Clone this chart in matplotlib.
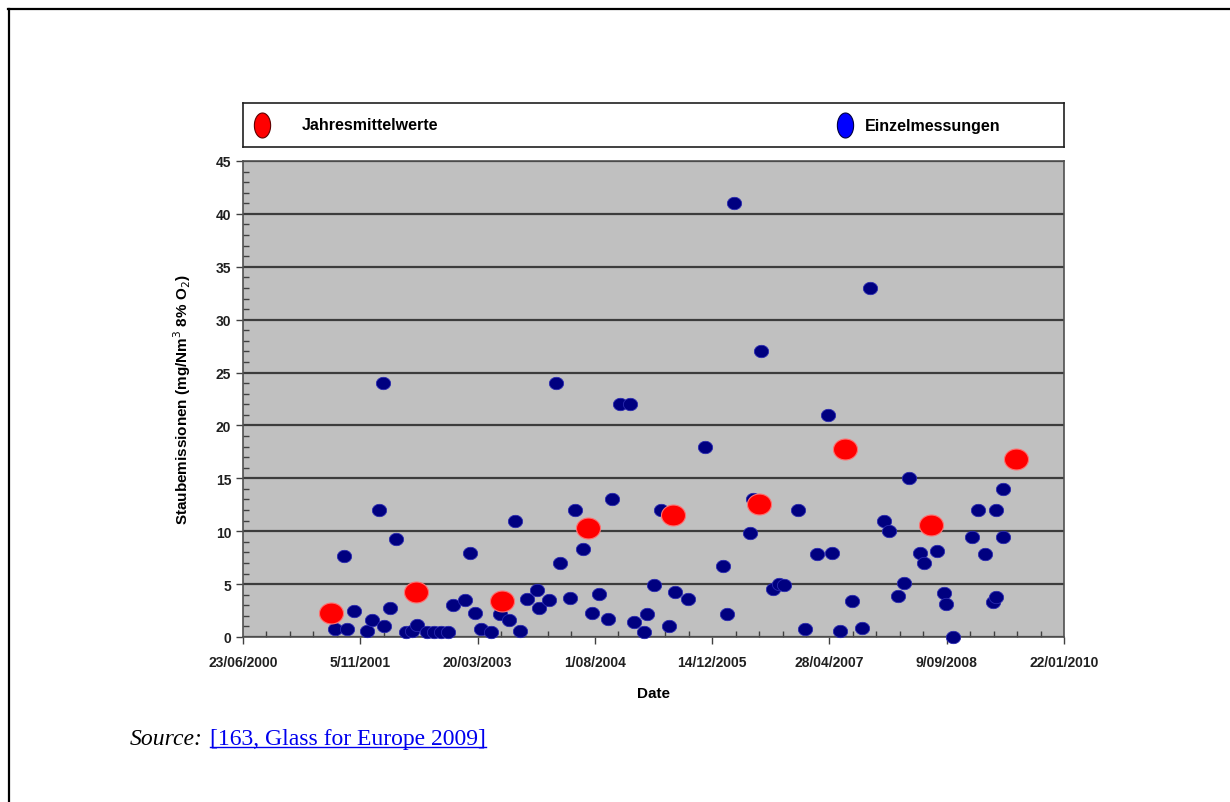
import numpy as np
import pandas as pd
import matplotlib
matplotlib.use("Agg")
import matplotlib.pyplot as plt
import matplotlib.dates as mdates
from matplotlib import font_manager
from matplotlib.lines import Line2D
from matplotlib.path import Path

# Einzelmessungen (Datum, Staub mg/Nm3)
einzel_datum = [
    "2001-07-20", "2001-08-28", "2001-09-11", "2001-10-09", "2001-12-02", "2001-12-25",
    "2002-01-24", "2002-02-11", "2002-02-15", "2002-03-12", "2002-04-06", "2002-05-19",
    "2002-06-13", "2002-07-06", "2002-08-16", "2002-09-15", "2002-10-15", "2002-11-14",
    "2002-12-06", "2003-01-27", "2003-02-15", "2003-03-07", "2003-04-05", "2003-05-16",
    "2003-06-23", "2003-08-02", "2003-08-28", "2003-09-18", "2003-10-16", "2003-11-30",
    "2003-12-06", "2004-01-18", "2004-02-16", "2004-03-05", "2004-04-17", "2004-05-08",
    "2004-06-13", "2004-07-18", "2004-08-19", "2004-09-25", "2004-10-15", "2004-11-16",
    "2004-12-29", "2005-01-16", "2005-02-26", "2005-03-10", "2005-04-10", "2005-05-10",
    "2005-06-14", "2005-07-09", "2005-09-02", "2005-11-13", "2006-01-28", "2006-02-14",
    "2006-03-18", "2006-05-24", "2006-06-07", "2006-07-09", "2006-08-31", "2006-09-23",
    "2006-10-15", "2006-12-16", "2007-01-12", "2007-03-08", "2007-04-20", "2007-05-08",
    "2007-06-10", "2007-08-03", "2007-09-14", "2007-10-18", "2007-12-17", "2008-01-05",
    "2008-02-16", "2008-03-09", "2008-04-03", "2008-05-16", "2008-06-06", "2008-07-28",
    "2008-08-28", "2008-09-08", "2008-10-07", "2008-12-24", "2009-01-22", "2009-02-19",
    "2009-03-24", "2009-04-07", "2009-04-05", "2009-05-06", "2009-05-08",
]
einzel_wert = [
    0.75, 7.7, 0.8, 2.5, 0.6, 1.6,
    12.0, 24.0, 1.0, 2.7, 9.3, 0.5,
    0.6, 1.1, 0.45, 0.45, 0.45, 0.45,
    3.0, 3.5, 7.9, 2.3, 0.8, 0.45,
    2.2, 1.6, 11.0, 0.6, 3.6, 4.4,
    2.7, 3.5, 24.0, 7.0, 3.7, 12.0,
    8.3, 2.3, 4.1, 1.7, 13.0, 22.0,
    22.0, 1.4, 0.5, 2.2, 4.9, 12.0,
    1.0, 4.3, 3.6, 18.0, 6.7, 2.2,
    41.0, 9.8, 13.0, 27.0, 4.5, 5.0,
    4.9, 12.0, 0.75, 7.8, 21.0, 7.9,
    0.6, 3.4, 0.85, 33.0, 11.0, 10.0,
    3.9, 5.1, 15.0, 7.9, 7.0, 8.1,
    4.2, 3.1, 0.0, 9.5, 12.0, 7.8,
    3.3, 3.75, 12.0, 14.0, 9.5,
]

# Jahresmittelwerte
jahr_datum = ["2001-07-02", "2002-07-02", "2003-07-02", "2004-07-02", "2005-07-02",
              "2006-07-02", "2007-07-02", "2008-07-02", "2009-07-02"]
jahr_wert = [2.3, 4.3, 3.4, 10.3, 11.5, 12.6, 17.8, 10.6, 16.8]

x_start = "2000-06-23"
x_end = "2010-01-22"

names = {f.name for f in font_manager.fontManager.ttflist}
narrow = "Liberation Sans Narrow" if "Liberation Sans Narrow" in names else "Liberation Sans"

# ellipse marker, slightly wider than tall
t = np.linspace(0, 2 * np.pi, 60)
ell = Path(np.column_stack([1.15 * np.cos(t), np.sin(t)]), closed=True)
ell_v = Path(np.column_stack([0.65 * np.cos(t), np.sin(t)]), closed=True)

fig = plt.figure(figsize=(12.3, 8.03), dpi=100)
ax = fig.add_axes([243 / 1230, 1 - 638 / 803, 821 / 1230, 476 / 803])
ax.set_facecolor("#c0c0c0")

ax.scatter(pd.to_datetime(einzel_datum), einzel_wert, s=105, marker=ell,
           c="#000080", edgecolors="#2a2ab0", linewidths=0.6, zorder=3, clip_on=False)
ax.scatter(pd.to_datetime(jahr_datum), jahr_wert, s=300, marker=ell,
           c="#ff0000", edgecolors="#ff7070", linewidths=0.8, zorder=4)

start = pd.Timestamp(x_start)
ax.set_xlim(mdates.date2num(start), mdates.date2num(pd.Timestamp(x_end)))
ax.set_ylim(0, 45)
ax.xaxis.set_major_locator(matplotlib.ticker.FixedLocator(
    [mdates.date2num(start + pd.Timedelta(days=500 * k)) for k in range(8)]))
ax.xaxis.set_minor_locator(matplotlib.ticker.FixedLocator(
    [mdates.date2num(start + pd.Timedelta(days=100 * k)) for k in range(36)]))
ax.xaxis.set_major_formatter(mdates.DateFormatter("%-d/%m/%Y"))
ax.yaxis.set_major_locator(matplotlib.ticker.MultipleLocator(5))
ax.yaxis.set_minor_locator(matplotlib.ticker.MultipleLocator(1))

ax.grid(axis="y", which="major", color="#3c3c3c", linewidth=1.6, zorder=1)
ax.set_axisbelow(True)
for s in ax.spines.values():
    s.set_color("#505050")
    s.set_linewidth(1.2)
ax.tick_params(which="major", direction="out", length=5, width=1, color="#404040",
               labelsize=10)
ax.tick_params(axis="x", which="major", pad=8)
ax.tick_params(which="minor", direction="in", length=4, width=1, color="#404040")
for lab in ax.get_xticklabels() + ax.get_yticklabels():
    lab.set_family(narrow)
    lab.set_fontweight("bold")
    lab.set_color("#202020")

ax.set_xlabel("Date", family=narrow, fontweight="bold", fontsize=11, labelpad=12)
ax.set_ylabel("Staubemissionen (mg/Nm$^3$ 8% O$_2$)", family=narrow,
              fontweight="bold", fontsize=11, labelpad=16)

# legend box
lg = fig.add_axes([243 / 1230, 1 - 148 / 803, 821 / 1230, 44 / 803])
lg.set_xlim(0, 1)
lg.set_ylim(0, 1)
lg.set_xticks([])
lg.set_yticks([])
for s in lg.spines.values():
    s.set_color("#202020")
    s.set_linewidth(1.2)
lg.add_line(Line2D([0.023], [0.5], marker=ell_v, markersize=18, color="#ff0000",
                   markeredgecolor="#600000", markeredgewidth=0.8))
lg.add_line(Line2D([0.733], [0.5], marker=ell_v, markersize=18, color="#0000ff",
                   markeredgecolor="#000040", markeredgewidth=0.8))
lg.text(0.072, 0.5, "Jahresmittelwerte", family=narrow, fontweight="bold",
        fontsize=11.5, va="center", ha="left")
lg.text(0.757, 0.5, "Einzelmessungen", family=narrow, fontweight="bold",
        fontsize=11.5, va="center", ha="left")

# page frame
fig.add_artist(Line2D([9 / 1230, 9 / 1230], [0, 1 - 10 / 803], color="black",
                      linewidth=1.6, transform=fig.transFigure))
fig.add_artist(Line2D([8 / 1230, 1], [1 - 10 / 803, 1 - 10 / 803], color="black",
                      linewidth=1.6, transform=fig.transFigure))

src = fig.text(130 / 1230, 1 - 745 / 803, "Source:", family="Liberation Serif",
               style="italic", fontsize=17, va="baseline")
link = fig.text(210 / 1230, 1 - 745 / 803, "[163, Glass for Europe 2009]",
                family="Liberation Serif", fontsize=17, color="#0000ee", va="baseline")
fig.canvas.draw()
bb = link.get_window_extent().transformed(fig.transFigure.inverted())
fig.add_artist(Line2D([bb.x0, bb.x1], [bb.y0 + 0.003, bb.y0 + 0.003], color="#0000ee",
                      linewidth=1, transform=fig.transFigure))

fig.savefig("out.png", dpi=100)
